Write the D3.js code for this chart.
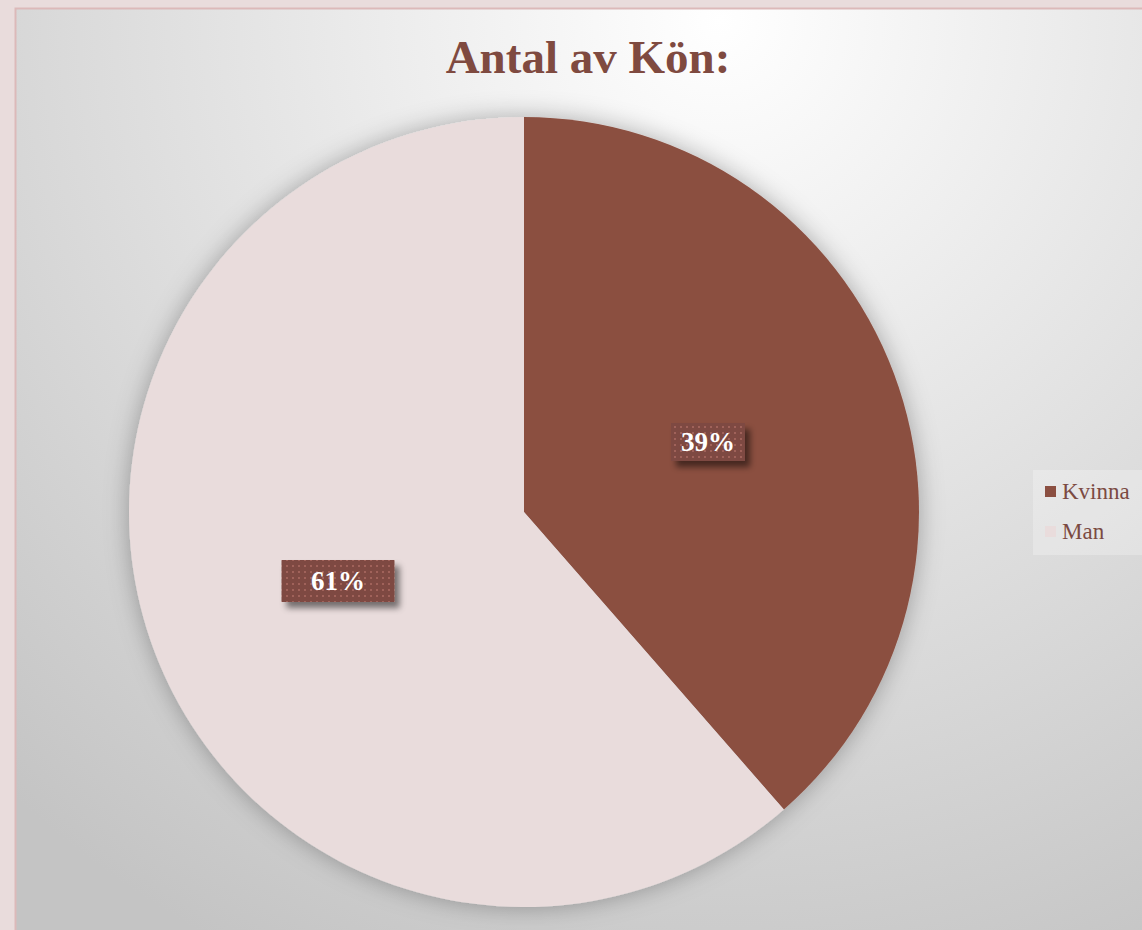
<!DOCTYPE html>
<html>
<head>
<meta charset="utf-8">
<script src="https://cdn.jsdelivr.net/npm/d3@7"></script>
<style>
  body { margin: 0; background: #e9dcdc; overflow: hidden; }
</style>
</head>
<body>
<div class="canvas"></div>
<script>
const categories = ["Kvinna", "Man"];
const counts = [27, 43];
const colors = ["#8b4f41", "#e9dcdc"];

const width = 1142;
const height = 930;
const cx = 524;
const cy = 512;
const radius = 395;

const svg = d3.select(".canvas").append("svg")
  .attr("width", width)
  .attr("height", height);

const defs = svg.append("defs");

// background gradient of the plot area
const bg = defs.append("radialGradient")
  .attr("id", "bg")
  .attr("gradientUnits", "userSpaceOnUse")
  .attr("cx", 720).attr("cy", 20).attr("r", 1050);
bg.append("stop").attr("offset", "0").attr("stop-color", "#ffffff");
bg.append("stop").attr("offset", "1").attr("stop-color", "#c4c4c4");

// soft glow around the pie
const glow = defs.append("filter").attr("id", "glow")
  .attr("x", "-20%").attr("y", "-20%").attr("width", "140%").attr("height", "140%");
glow.append("feGaussianBlur").attr("in", "SourceAlpha").attr("stdDeviation", 12).attr("result", "b");
glow.append("feFlood").attr("flood-color", "#000").attr("flood-opacity", 0.3);
glow.append("feComposite").attr("in2", "b").attr("operator", "in").attr("result", "s");
const gm = glow.append("feMerge");
gm.append("feMergeNode").attr("in", "s");
gm.append("feMergeNode").attr("in", "SourceGraphic");

// drop shadow for labels
const shadow = defs.append("filter").attr("id", "shadow")
  .attr("x", "-30%").attr("y", "-30%").attr("width", "170%").attr("height", "190%");
shadow.append("feGaussianBlur").attr("in", "SourceAlpha").attr("stdDeviation", 3).attr("result", "b");
shadow.append("feOffset").attr("in", "b").attr("dx", 5).attr("dy", 6).attr("result", "o");
shadow.append("feFlood").attr("flood-color", "#000").attr("flood-opacity", 0.5);
shadow.append("feComposite").attr("in2", "o").attr("operator", "in").attr("result", "s");
const sm = shadow.append("feMerge");
sm.append("feMergeNode").attr("in", "s");
sm.append("feMergeNode").attr("in", "SourceGraphic");

// dotted pattern for label boxes
const pat = defs.append("pattern").attr("id", "dots")
  .attr("patternUnits", "userSpaceOnUse").attr("width", 6).attr("height", 6);
pat.append("rect").attr("width", 6).attr("height", 6).attr("fill", "#7e4a42");
pat.append("rect").attr("x", 2).attr("y", 2).attr("width", 2).attr("height", 2).attr("fill", "#a0625a");

// plot area
svg.append("rect")
  .attr("x", 15.5).attr("y", 8.5)
  .attr("width", width + 10).attr("height", height + 10)
  .attr("fill", "url(#bg)")
  .attr("stroke", "#dcb9b9").attr("stroke-width", 2);

// title
svg.append("text")
  .attr("x", 588).attr("y", 73)
  .attr("text-anchor", "middle")
  .attr("font-family", "Liberation Serif, Times New Roman, serif")
  .attr("font-weight", "bold")
  .attr("font-size", 47)
  .attr("fill", "#7f4a40")
  .text("Antal av Kön:");

const pie = d3.pie().sort(null).value(d => d);
const arcs = pie(counts);
const arc = d3.arc().innerRadius(0).outerRadius(radius);
const total = d3.sum(counts);

const g = svg.append("g").attr("transform", `translate(${cx},${cy})`);

g.append("g").attr("filter", "url(#glow)")
  .selectAll("path")
  .data(arcs)
  .join("path")
  .attr("d", arc)
  .attr("fill", (d, i) => colors[i]);

// data labels
const labelPos = [[708, 442], [338, 581]];
const boxW = [74, 113];
const boxH = [38, 42];

const labels = svg.append("g");
arcs.forEach((d, i) => {
  const txt = d3.format(".0%")(d.value / total);
  const lg = labels.append("g")
    .attr("transform", `translate(${labelPos[i][0]},${labelPos[i][1]})`);
  lg.append("rect")
    .attr("x", -boxW[i] / 2).attr("y", -boxH[i] / 2)
    .attr("width", boxW[i]).attr("height", boxH[i])
    .attr("fill", "url(#dots)")
    .attr("filter", "url(#shadow)");
  lg.append("text")
    .attr("text-anchor", "middle")
    .attr("dy", "0.35em")
    .attr("font-family", "Liberation Serif, Times New Roman, serif")
    .attr("font-weight", "bold")
    .attr("font-size", 27)
    .attr("fill", "#ffffff")
    .text(txt);
});

// legend
const legend = svg.append("g");
legend.append("rect")
  .attr("x", 1033).attr("y", 470)
  .attr("width", 115).attr("height", 85)
  .attr("fill", "#ffffff").attr("fill-opacity", 0.25);

const ly = d3.scalePoint().domain(categories).range([492, 532]);
categories.forEach((c, i) => {
  legend.append("rect")
    .attr("x", 1045).attr("y", ly(c) - 6)
    .attr("width", 11).attr("height", 11)
    .attr("fill", colors[i]);
  legend.append("text")
    .attr("x", 1062).attr("y", ly(c) + 7)
    .attr("font-family", "Liberation Serif, Times New Roman, serif")
    .attr("font-size", 23)
    .attr("fill", "#7b4a42")
    .text(c);
});
</script>
</body>
</html>
